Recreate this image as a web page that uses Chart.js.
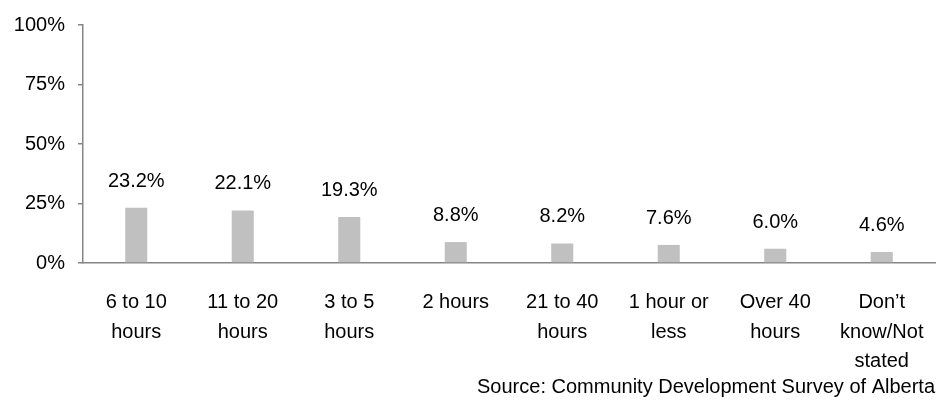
<!DOCTYPE html>
<html>
<head>
<meta charset="utf-8">
<script src="https://cdn.jsdelivr.net/npm/chart.js@4"></script>
<style>
    body { margin: 0; background: #fff; }
    #wrap { width: 945px; height: 405px; position: relative; }
</style>
</head>
<body>
<div id="wrap"><canvas id="grafico"></canvas></div>
<script>
// Dados do gráfico
const categorias = [
    ['6 to 10', 'hours'],
    ['11 to 20', 'hours'],
    ['3 to 5', 'hours'],
    '2 hours',
    ['21 to 40', 'hours'],
    ['1 hour or', 'less'],
    ['Over 40', 'hours'],
    ['Don\u2019t', 'know/Not', 'stated']
];
const valores = [23.2, 22.1, 19.3, 8.8, 8.2, 7.6, 6.0, 4.6];
const ticksY = [0, 25, 50, 75, 100];
const fonte = 'Source: Community Development Survey of Alberta';

const FONT = '"Liberation Sans", Arial, sans-serif';
const COR_EIXO = '#868686';

// Rótulos acima das barras + fonte no rodapé
const rotulos = {
    id: 'rotulos',
    afterDatasetsDraw(chart) {
        const ctx = chart.ctx;
        const meta = chart.getDatasetMeta(0);
        ctx.save();
        ctx.font = '20px ' + FONT;
        ctx.fillStyle = '#000';
        ctx.textAlign = 'center';
        ctx.textBaseline = 'alphabetic';
        meta.data.forEach((bar, i) => {
            ctx.fillText(valores[i].toFixed(1) + '%', bar.x, bar.y - 21);
        });
        ctx.textAlign = 'right';
        ctx.fillText(fonte, chart.chartArea.right, 393);
        ctx.restore();
    }
};

new Chart(document.getElementById('grafico').getContext('2d'), {
    type: 'bar',
    data: {
        labels: categorias,
        datasets: [{
            data: valores,
            backgroundColor: '#c0c0c0',
            barPercentage: 0.207,
            categoryPercentage: 1
        }]
    },
    options: {
        responsive: true,
        maintainAspectRatio: false,
        animation: false,
        layout: { padding: { top: 21, right: 10, left: 0, bottom: 0 } },
        plugins: { legend: { display: false }, tooltip: { enabled: false } },
        scales: {
            x: {
                grid: { display: false },
                border: { display: true, color: COR_EIXO, width: 1.5 },
                ticks: {
                    color: '#000',
                    padding: 17,
                    maxRotation: 0,
                    autoSkip: false,
                    font: { family: FONT, size: 20, lineHeight: 1.475 }
                },
                afterFit(scale) { scale.height = 142; }
            },
            y: {
                min: 0,
                max: 100,
                afterBuildTicks(scale) { scale.ticks = ticksY.map(v => ({ value: v })); },
                grid: { drawOnChartArea: false, drawTicks: true, tickLength: 5, color: COR_EIXO, lineWidth: 1.5 },
                border: { display: true, color: COR_EIXO, width: 1.5 },
                ticks: {
                    color: '#000',
                    padding: 13,
                    callback: v => v + '%',
                    font: { family: FONT, size: 20 }
                },
                afterFit(scale) { scale.width = 83; }
            }
        }
    },
    plugins: [rotulos]
});
</script>
</body>
</html>
